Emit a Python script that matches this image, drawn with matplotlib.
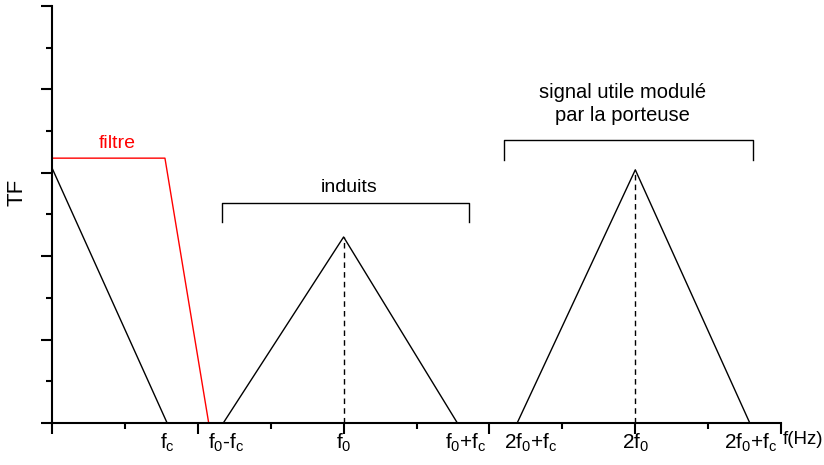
import matplotlib.pyplot as plt
import numpy as np

plt.rcParams['font.family'] = ['Liberation Sans', 'DejaVu Sans']
plt.rcParams['mathtext.fontset'] = 'custom'
plt.rcParams['mathtext.rm'] = 'Liberation Sans'
plt.rcParams['mathtext.it'] = 'Liberation Sans'

# spectre (x en unites arbitraires, y = TF)
bb_x = [0, 1.58]
bb_y = [6.12, 0]
filtre_x = [0, 1.55, 2.15]
filtre_y = [6.35, 6.35, 0]
induit_x = [2.35, 4.0, 5.56]
induit_y = [0, 4.46, 0]
signal_x = [6.38, 8.0, 9.57]
signal_y = [0, 6.07, 0]

# etiquettes de frequence
freq_pos = [1.58, 2.39, 4.0, 5.68, 6.56, 8.0, 9.58]
freq_lab = ["$\\mathregular{f_c}$", "$\\mathregular{f_0}$-$\\mathregular{f_c}$",
            "$\\mathregular{f_0}$", "$\\mathregular{f_0}$+$\\mathregular{f_c}$",
            "2$\\mathregular{f_0}$+$\\mathregular{f_c}$", "2$\\mathregular{f_0}$",
            "2$\\mathregular{f_0}$+$\\mathregular{f_c}$"]

# accolades : (x debut, x fin, y haut, y bas)
induits_br = [2.33, 5.72, 5.28, 4.82]
signal_br = [6.20, 9.62, 6.79, 6.31]

fig = plt.figure(figsize=(8.24, 4.65), dpi=100)
ax = fig.add_axes([0.063, 0.0903, 0.885, 0.897])

ax.plot(bb_x, bb_y, color="black", lw=1.0)
ax.plot(filtre_x, filtre_y, color="red", lw=1.0)
ax.plot(induit_x, induit_y, color="black", lw=1.0)
ax.plot(signal_x, signal_y, color="black", lw=1.0)
ax.plot([induit_x[1], induit_x[1]], [0, induit_y[1]], color="black", lw=1.0, ls=(0, (4, 3)))
ax.plot([signal_x[1], signal_x[1]], [0, signal_y[1]], color="black", lw=1.0, ls=(0, (4, 3)))

for br in [induits_br, signal_br]:
    ax.plot([br[0], br[0], br[1], br[1]], [br[3], br[2], br[2], br[3]], color="black", lw=1.0)

ax.text(0.9, 6.5, "filtre", color="red", ha="center", va="bottom", fontsize=14)
ax.text(4.08, 5.45, "induits", ha="center", va="bottom", fontsize=14)
ax.text(7.83, 7.15, "signal utile modulé\npar la porteuse", ha="center", va="bottom",
        fontsize=14.5, linespacing=1.25)

for p, l in zip(freq_pos, freq_lab):
    ax.text(p, -0.2, l, ha="center", va="top", fontsize=15, clip_on=False)
ax.text(10.3, -0.2, "f(Hz)", ha="center", va="top", fontsize=13.5, clip_on=False)

ax.set_xlim(0, 10)
ax.set_ylim(0, 10)
ax.set_xticks(np.arange(0, 11, 2))
ax.set_xticks(np.arange(1, 10, 2), minor=True)
ax.set_yticks(np.arange(0, 11, 2))
ax.set_yticks(np.arange(1, 10, 2), minor=True)
ax.set_xticklabels([])
ax.set_yticklabels([])
ax.tick_params(which="major", length=8, width=1.5, direction="out")
ax.tick_params(which="minor", length=4, width=1.5, direction="out")
ax.spines["top"].set_visible(False)
ax.spines["right"].set_visible(False)
ax.spines["left"].set_linewidth(1.5)
ax.spines["bottom"].set_linewidth(1.5)
ax.set_ylabel("TF", fontsize=16)
ax.yaxis.set_label_coords(-0.034, 0.554)

fig.savefig("out.png", dpi=100)
